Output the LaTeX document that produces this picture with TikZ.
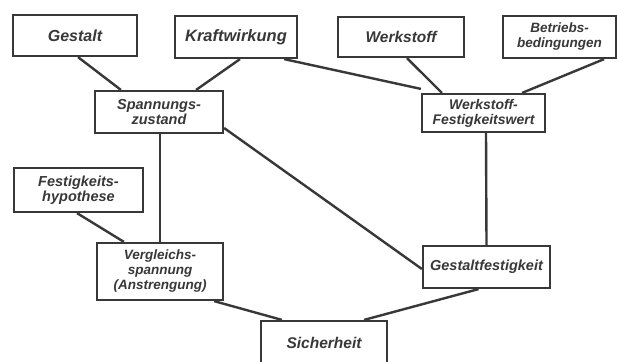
\documentclass[tikz,border=0pt]{standalone}
\usepackage{fontspec}
\setmainfont{Liberation Sans}
\newcommand{\lettering}[1]{\fontsize{#1}{15}\selectfont\bfseries\itshape}
\begin{document}
\begin{tikzpicture}[x=1pt,y=-1pt,
  block/.style={draw=black!78, line width=2.2pt, rectangle, inner sep=0pt,
    text=black!78, align=center, font=\lettering{15.5}},
  link/.style={draw=black!78, line width=2.4pt}]
\useasboundingbox (0,0) rectangle (617,361);
\fill[white] (0,0) rectangle (617,361);

% top row: influencing quantities
\node[block, font=\lettering{16}, minimum width=124pt, minimum height=41pt] (gestalt) at (75,35.5) {Gestalt};
\node[block, font=\lettering{16.5}, minimum width=122pt, minimum height=42pt] (kraft) at (236,37) {Kraftwirkung};
\node[block, minimum width=126pt, minimum height=40pt] (werkstoff) at (401,37) {Werkstoff};
\node[block, font=\lettering{13.5}, minimum width=113pt, minimum height=42pt] (betrieb) at (559.5,37) {Betriebs-\\bedingungen};

% second row
\node[block, font=\lettering{14.5}, minimum width=128pt, minimum height=42pt] (spann) at (159,112) {Spannungs-\\zustand};
\node[block, font=\lettering{14}, minimum width=123pt, minimum height=38pt] (wfw) at (483.5,113) {Werkstoff-\\Festigkeitswert};

% left branch
\node[block, font=\lettering{14.5}, minimum width=129pt, minimum height=44pt] (hyp) at (78.5,190) {Festigkeits-\\hypothese};
\node[block, font=\lettering{13.5}, minimum width=126pt, minimum height=57pt] (vergl) at (160,271.5) {Vergleichs-\\spannung\\(Anstrengung)};

% right branch and result
\node[block, font=\lettering{14.5}, minimum width=127pt, minimum height=42pt] (gfest) at (486.5,267) {Gestaltfestigkeit};
\node[block, minimum width=126pt, minimum height=44pt] (sicher) at (324,343) {Sicherheit};

% connectors
\draw[link] ([xshift=3pt]gestalt.south) -- ([xshift=27pt]spann.north west);
\draw[link] ([xshift=4pt]kraft.south) -- ([xshift=-28pt]spann.north east);
\draw[link] ([xshift=-14pt]kraft.south east) -- ([yshift=4pt]wfw.north west);
\draw[link] ([xshift=6pt]werkstoff.south) -- ([xshift=21pt]wfw.north west);
\draw[link] ([xshift=-13pt]betrieb.south east) -- ([xshift=-24pt]wfw.north east);
\draw[link] ([xshift=2.5pt]wfw.south) -- (gfest.north);
\draw[link] ([yshift=-16pt]spann.east) -- ([yshift=-2pt]gfest.west);
\draw[link] ([xshift=1pt]spann.south) -- (vergl.north);
\draw[link] ([xshift=-1.5pt]hyp.south) -- ([xshift=28pt]vergl.north west);
\draw[link] ([xshift=-10pt]vergl.south east) -- ([xshift=22pt]sicher.north west);
\draw[link] ([xshift=-8pt]gfest.south) -- ([xshift=-24pt]sicher.north east);
\end{tikzpicture}
\end{document}
